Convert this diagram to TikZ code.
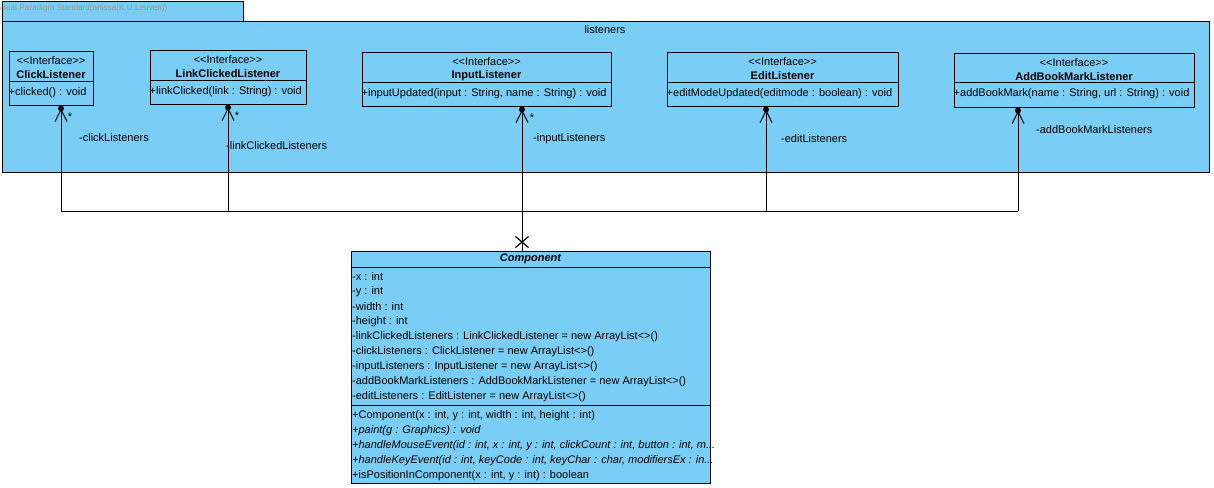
\documentclass[tikz,border=0pt]{standalone}
\usepackage{fontspec}
\setmainfont{Liberation Sans}
\usetikzlibrary{arrows.meta,shapes.misc}
\definecolor{vpblue}{RGB}{122,206,245}
\definecolor{vpgray}{RGB}{150,150,150}
\tikzset{
  umlbox/.style={draw,fill=vpblue,line width=1pt,inner sep=0pt},
  txt/.style={inner sep=0pt,font=\fontsize{11}{13}\selectfont},
  lft/.style={txt,anchor=west},
  own/.style={line width=1pt,shorten >=3pt,-{Straight Barb[length=12pt,width=12pt,line width=1pt]}},
  dot/.style={circle,fill=black,inner sep=0pt,minimum size=6pt}
}
\begin{document}
\begin{tikzpicture}[x=1pt,y=-1pt]
  \useasboundingbox (0,0) rectangle (1214,487);
  \node[umlbox,minimum width=241,minimum height=20](tab) at (122.5,12) {};
  \node[umlbox,minimum width=1207,minimum height=150](pkg) at (605.5,97) {};
  \node[txt,anchor=west,text=vpgray,font=\fontsize{8.2}{9}\selectfont](tabt) at (0,8) {isual Paradigm Standard(anissa(K.U.Leuven))};
  \node[txt](pkgt) at (605,30) {listeners};

  \node[umlbox,minimum width=84,minimum height=53](click) at (51,78.5) {};
  \draw[line width=1pt] ([yshift=-30pt]click.north west) -- ([yshift=-30pt]click.north east);
  \node[txt](clickS) at ([yshift=-9pt]click.north) {<{}<Interface>{}>};
  \node[txt](clickN) at ([yshift=-23pt]click.north) {\bfseries ClickListener};
  \node[lft](clickO) at ([yshift=-41pt]click.north west) {+clicked() : void};

  \node[umlbox,minimum width=156,minimum height=53](link) at (228,77.5) {};
  \draw[line width=1pt] ([yshift=-30pt]link.north west) -- ([yshift=-30pt]link.north east);
  \node[txt](linkS) at ([yshift=-9pt]link.north) {<{}<Interface>{}>};
  \node[txt](linkN) at ([yshift=-23pt]link.north) {\bfseries LinkClickedListener};
  \node[lft](linkO) at ([yshift=-41pt]link.north west) {+linkClicked(link : String) : void};

  \node[umlbox,minimum width=249,minimum height=53](input) at (486.5,79.5) {};
  \draw[line width=1pt] ([yshift=-30pt]input.north west) -- ([yshift=-30pt]input.north east);
  \node[txt](inputS) at ([yshift=-9pt]input.north) {<{}<Interface>{}>};
  \node[txt](inputN) at ([yshift=-23pt]input.north) {\bfseries InputListener};
  \node[lft](inputO) at ([yshift=-41pt]input.north west) {+inputUpdated(input : String, name : String) : void};

  \node[umlbox,minimum width=231,minimum height=53](edit) at (782.5,79.5) {};
  \draw[line width=1pt] ([yshift=-30pt]edit.north west) -- ([yshift=-30pt]edit.north east);
  \node[txt](editS) at ([yshift=-9pt]edit.north) {<{}<Interface>{}>};
  \node[txt](editN) at ([yshift=-23pt]edit.north) {\bfseries EditListener};
  \node[lft](editO) at ([yshift=-41pt]edit.north west) {+editModeUpdated(editmode : boolean) : void};

  \node[umlbox,minimum width=240,minimum height=53](book) at (1074,80.5) {};
  \draw[line width=1pt] ([yshift=-29pt]book.north west) -- ([yshift=-29pt]book.north east);
  \node[txt](bookS) at ([yshift=-9pt]book.north) {<{}<Interface>{}>};
  \node[txt](bookN) at ([yshift=-23pt]book.north) {\bfseries AddBookMarkListener};
  \node[lft](bookO) at ([yshift=-40pt]book.north west) {+addBookMark(name : String, url : String) : void};

  \node[umlbox,minimum width=359,minimum height=232](comp) at (530.5,367) {};
  \draw[line width=1pt] ([yshift=-17pt]comp.north west) -- ([yshift=-17pt]comp.north east);
  \draw[line width=1pt] ([yshift=-155pt]comp.north west) -- ([yshift=-155pt]comp.north east);
  \node[txt](compN) at ([yshift=-8pt]comp.north) {\bfseries\itshape Component};
  \node[lft](a1) at (352,277) {-x : int};
  \node[lft](a2) at (352,292) {-y : int};
  \node[lft](a3) at (352,307) {-width : int};
  \node[lft](a4) at (352,322) {-height : int};
  \node[lft](a5) at (352,337) {-linkClickedListeners : LinkClickedListener = new ArrayList<>()};
  \node[lft](a6) at (352,352) {-clickListeners : ClickListener = new ArrayList<>()};
  \node[lft](a7) at (352,367) {-inputListeners : InputListener = new ArrayList<>()};
  \node[lft](a8) at (352,382) {-addBookMarkListeners : AddBookMarkListener = new ArrayList<>()};
  \node[lft](a9) at (352,397) {-editListeners : EditListener = new ArrayList<>()};
  \node[lft](o1) at (352,416) {+Component(x : int, y : int, width : int, height : int)};
  \node[lft](o2) at (352,431) {\itshape +paint(g : Graphics) : void};
  \node[lft](o3) at (352,446) {\itshape +handleMouseEvent(id : int, x : int, y : int, clickCount : int, button : int, m...};
  \node[lft](o4) at (352,461) {\itshape +handleKeyEvent(id : int, keyCode : int, keyChar : char, modifiersEx : in...};
  \node[lft](o5) at (352,476) {+isPositionInComponent(x : int, y : int) : boolean};

  \coordinate(busA) at (61,211);
  \coordinate(busB) at (228,211);
  \coordinate(busC) at (522,211);
  \coordinate(busD) at (766,211);
  \coordinate(busE) at (1018,211);
  \draw[line width=1pt] (busA) -- (busE);
  \draw[own] (busA) -- (click.south -| busA);
  \draw[own] (busB) -- (link.south -| busB);
  \draw[own] (busC) -- (input.south -| busC);
  \draw[own] (busD) -- (edit.south -| busD);
  \draw[own] (busE) -- (book.south -| busE);
  \node[dot](d1) at ([yshift=-3pt]click.south -| busA) {};
  \node[dot](d2) at ([yshift=-3pt]link.south -| busB) {};
  \node[dot](d3) at ([yshift=-3pt]input.south -| busC) {};
  \node[dot](d4) at ([yshift=-3pt]edit.south -| busD) {};
  \node[dot](d5) at ([yshift=-3pt]book.south -| busE) {};
  \draw[line width=1pt] (busC) -- (comp.north -| busC);
  \node[draw,cross out,line width=1.2pt,minimum width=12,minimum height=10,inner sep=0pt](xm) at (522,242) {};

  \node[txt](m1) at (70,117) {*};
  \node[txt](m2) at (237,116) {*};
  \node[txt](m3) at (532,118) {*};
  \node[lft](r1) at (79,138) {-clickListeners};
  \node[lft](r2) at (226,146) {-linkClickedListeners};
  \node[lft](r3) at (533,139) {-inputListeners};
  \node[lft](r4) at (781,139) {-editListeners};
  \node[lft](r5) at (1036,130) {-addBookMarkListeners};
\end{tikzpicture}
\end{document}
